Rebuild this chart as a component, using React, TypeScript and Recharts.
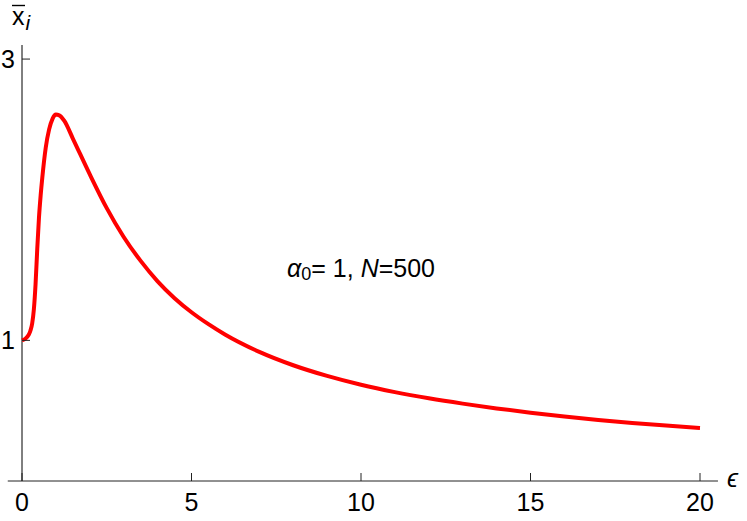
import React from 'react'
import { LineChart, Line, XAxis, YAxis, ReferenceLine, ReferenceDot } from 'recharts'

// curve: epsilon -> mean x_i
const eps = [
  0, 0.1, 0.2, 0.25, 0.3, 0.35, 0.4, 0.45, 0.5, 0.55,
  0.6, 0.7, 0.8, 0.9, 1.0, 1.1, 1.25, 1.5, 2,
  2.5, 3, 3.5, 4, 4.5, 5, 5.5, 6, 7, 8,
  9, 10, 11, 12, 13, 14, 15, 16, 17, 18,
  19, 20,
]
const xBar = [
  1.0, 1.012, 1.04, 1.07, 1.12, 1.22, 1.4, 1.65, 1.87, 2.03,
  2.16, 2.37, 2.5, 2.575, 2.605, 2.6, 2.56, 2.435, 2.18,
  1.94, 1.735, 1.565, 1.42, 1.3, 1.2, 1.115, 1.04, 0.918, 0.823,
  0.747, 0.684, 0.632, 0.588, 0.55, 0.516, 0.486, 0.459, 0.434, 0.413,
  0.394, 0.377,
]
const xTicks = [0, 5, 10, 15, 20]
const yTicks = [1, 3]
const xAxisEnds = [-0.42, 20.53]
const notePos = [10, 1.45]

const data = eps.map((e, i) => ({ eps: e, xBar: xBar[i] }))

const FONT = '"Liberation Sans", Arial, Helvetica, sans-serif'
const AXIS = '#222'
const TICK_LEN = 8
const X_GAP = 12
const Y_GAP = 7

function XTick({ x, y, payload }: any) {
  const axisY = y - X_GAP
  return (
    <g>
      <line x1={x} x2={x} y1={axisY} y2={axisY - TICK_LEN} stroke={AXIS} />
      <text x={x} y={y} dy="0.71em" textAnchor="middle" fontSize={25} fontFamily={FONT} fill="#000">
        {payload.value}
      </text>
    </g>
  )
}

function YTick({ x, y, payload }: any) {
  const axisX = x + Y_GAP
  return (
    <g>
      <line x1={axisX} x2={axisX + TICK_LEN} y1={y} y2={y} stroke={AXIS} />
      <text x={x} y={y} dy="0.36em" textAnchor="end" fontSize={25} fontFamily={FONT} fill="#000">
        {payload.value}
      </text>
    </g>
  )
}

const EpsLabel = ({ viewBox }: any) => (
  <text
    x={viewBox.x + viewBox.width + 9}
    y={viewBox.y + 6}
    fontSize={25}
    fontStyle="italic"
    fontFamily={FONT}
    fill="#000"
  >
    ϵ
  </text>
)

// x with a bar over it, subscript i
const YLabel = ({ viewBox }: any) => {
  const left = viewBox.x - 10
  const base = viewBox.y - 20
  return (
    <g>
      <line x1={left} x2={left + 13} y1={base - 19.5} y2={base - 19.5} stroke="#000" strokeWidth={1.4} />
      <text x={left} y={base} fontFamily={FONT} fill="#000">
        <tspan fontSize={25}>x</tspan>
        <tspan fontSize={21} fontStyle="italic" dx={1} dy={5}>i</tspan>
      </text>
    </g>
  )
}

const Note = ({ viewBox }: any) => (
  <text
    x={viewBox.x}
    y={viewBox.y}
    textAnchor="middle"
    fontFamily={FONT}
    fontSize={25}
    fill="#000"
    style={{ whiteSpace: 'pre' }}
  >
    <tspan fontStyle="italic">α</tspan>
    <tspan fontSize={18} dy={3}>0</tspan>
    <tspan dy={-3}>= 1, </tspan>
    <tspan fontStyle="italic">N</tspan>
    <tspan>=500</tspan>
  </text>
)

export default function App() {
  return (
    <div style={{ position: 'absolute', left: 0, top: 0, background: '#fff' }}>
      <LineChart width={747} height={521} data={data} margin={{ top: 45, right: 47, bottom: 10, left: 0 }}>
        <XAxis
          dataKey="eps"
          type="number"
          domain={[0, 20]}
          ticks={xTicks}
          axisLine={false}
          tickLine={false}
          tickSize={0}
          tickMargin={X_GAP}
          height={30}
          tick={<XTick />}
        />
        <YAxis
          type="number"
          domain={[0, 3.1]}
          ticks={yTicks}
          width={22}
          axisLine={false}
          tickLine={false}
          tickSize={0}
          tickMargin={Y_GAP}
          tick={<YTick />}
        />
        <ReferenceLine
          segment={[
            { x: xAxisEnds[0], y: 0 },
            { x: xAxisEnds[1], y: 0 },
          ]}
          ifOverflow="visible"
          stroke={AXIS}
          strokeWidth={1}
          label={EpsLabel}
        />
        <ReferenceLine x={0} stroke="#000" strokeWidth={1} ifOverflow="visible" label={YLabel} />
        <ReferenceDot x={notePos[0]} y={notePos[1]} r={0} fill="none" stroke="none" label={Note} />
        <Line
          type="monotone"
          dataKey="xBar"
          stroke="#ff0000"
          strokeWidth={4}
          dot={false}
          isAnimationActive={false}
        />
      </LineChart>
    </div>
  )
}
